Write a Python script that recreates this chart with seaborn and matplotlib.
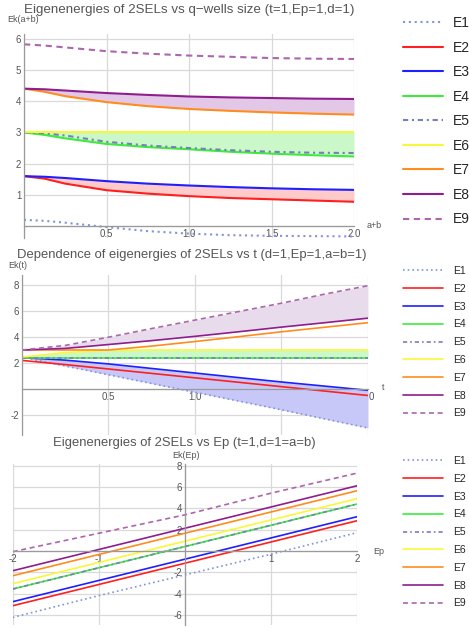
import numpy as np
import pandas as pd
import seaborn as sns
import matplotlib.pyplot as plt
from matplotlib.lines import Line2D
from matplotlib.ticker import MultipleLocator, FuncFormatter


# Panel 1: eigenenergies vs quantum-well size a+b
size_x = [0, 0.125, 0.25, 0.5, 0.75, 1.0, 1.25, 1.5, 1.75, 2.0]
size_e1 = [0.2, 0.17, 0.11, -0.03, -0.16, -0.24, -0.29, -0.31, -0.32, -0.33]
size_e2 = [1.6, 1.52, 1.36, 1.15, 1.04, 0.96, 0.9, 0.86, 0.82, 0.78]
size_e3 = [1.6, 1.58, 1.54, 1.44, 1.36, 1.3, 1.25, 1.21, 1.18, 1.16]
size_e4 = [3.0, 2.92, 2.81, 2.63, 2.53, 2.46, 2.38, 2.32, 2.27, 2.23]
size_e5 = [3.0, 2.97, 2.9, 2.7, 2.58, 2.5, 2.43, 2.38, 2.35, 2.34]
size_e6 = [3.0, 3.0, 3.0, 3.0, 3.0, 3.0, 3.0, 3.0, 3.0, 3.0]
size_e7 = [4.4, 4.3, 4.16, 3.97, 3.84, 3.75, 3.69, 3.64, 3.6, 3.57]
size_e8 = [4.4, 4.38, 4.34, 4.26, 4.2, 4.15, 4.12, 4.1, 4.08, 4.07]
size_e9 = [5.82, 5.78, 5.72, 5.6, 5.52, 5.46, 5.42, 5.38, 5.36, 5.35]

# Panel 2: eigenenergies vs t
t_x = [0, 0.25, 0.5, 0.75, 1.0, 1.25, 1.5, 1.75, 2.0]
t_e1 = [2.45, 1.77, 1.1, 0.42, -0.25, -0.92, -1.6, -2.3, -3.0]
t_e2 = [2.2, 1.88, 1.54, 1.2, 0.86, 0.52, 0.18, -0.16, -0.5]
t_e3 = [2.42, 2.22, 1.93, 1.58, 1.23, 0.88, 0.54, 0.22, -0.1]
t_e4 = [2.4, 2.4, 2.4, 2.4, 2.4, 2.4, 2.4, 2.4, 2.4]
t_e5 = [2.4, 2.4, 2.4, 2.4, 2.4, 2.4, 2.4, 2.4, 2.4]
t_e6 = [2.45, 2.8, 2.97, 3.0, 3.0, 3.0, 3.0, 3.0, 3.0]
t_e7 = [3.0, 3.0, 3.0, 3.3, 3.65, 4.02, 4.4, 4.75, 5.1]
t_e8 = [3.0, 3.12, 3.42, 3.72, 4.05, 4.4, 4.76, 5.1, 5.45]
t_e9 = [3.0, 3.35, 3.98, 4.65, 5.3, 5.95, 6.6, 7.3, 7.95]

# Panel 3: eigenenergies vs Ep
ep_x = [-2, -1, 0, 1, 2]
ep_e1 = [-6.25, -4.2, -2.25, -0.3, 1.73]
ep_e2 = [-5.15, -3.15, -1.15, 0.85, 2.85]
ep_e3 = [-4.77, -2.77, -0.77, 1.23, 3.23]
ep_e4 = [-3.58, -1.58, 0.42, 2.42, 4.42]
ep_e5 = [-3.58, -1.58, 0.42, 2.42, 4.42]
ep_e6 = [-3.08, -1.08, 0.92, 2.92, 4.92]
ep_e7 = [-2.33, -0.33, 1.67, 3.67, 5.67]
ep_e8 = [-1.86, 0.14, 2.14, 4.14, 6.14]
ep_e9 = [-0.07, 1.67, 3.4, 5.44, 7.33]

labels = ['E1', 'E2', 'E3', 'E4', 'E5', 'E6', 'E7', 'E8', 'E9']
colors = ['#8494d6', '#ff1f1f', '#1f1fff', '#3cec3c', '#7c7cba',
          '#f8f83a', '#ff8c1f', '#8e1e8e', '#ac66ac']
styles = [(0, (1, 1.8)), '-', '-', '-', (0, (2.5, 1.8, 1, 1.8)),
          '-', '-', '-', (0, (3, 2.2))]

W, H = 469, 628
TXT = '#555555'


def fx(px):
    return px / W


def fy(py):
    return 1 - py / H


def draw_lines(ax, x, series, lw):
    for y, c, ls in zip(series, colors, styles):
        df = pd.DataFrame({'x': x, 'y': y})
        sns.lineplot(data=df, x='x', y='y', ax=ax, color=c, linestyle=ls,
                     linewidth=lw, legend=False)


def style_axes(ax, xlim, ylim, xmaj, xmin, ymaj, ymin, xfmt, yfmt):
    ax.set_xlim(*xlim)
    ax.set_ylim(*ylim)
    ax.set_xlabel('')
    ax.set_ylabel('')
    for s in ['top', 'right']:
        ax.spines[s].set_visible(False)
    for s in ['left', 'bottom']:
        ax.spines[s].set_position(('data', 0))
        ax.spines[s].set_color('#9a9a9a')
        ax.spines[s].set_linewidth(0.9)
    ax.xaxis.set_major_locator(MultipleLocator(xmaj))
    ax.xaxis.set_minor_locator(MultipleLocator(xmin))
    ax.yaxis.set_major_locator(MultipleLocator(ymaj))
    ax.yaxis.set_minor_locator(MultipleLocator(ymin))
    ax.xaxis.set_major_formatter(FuncFormatter(xfmt))
    ax.yaxis.set_major_formatter(FuncFormatter(yfmt))
    ax.tick_params(which='major', direction='in', length=4, width=0.8,
                   color='#9a9a9a', labelcolor=TXT, labelsize=7, pad=2)
    ax.tick_params(which='minor', direction='in', length=2, width=0.6,
                   color='#9a9a9a')
    ax.grid(True, which='major', color='#d9d9d9', linewidth=0.9)
    ax.set_axisbelow(True)
    ax.patch.set_alpha(0)


def fmt_dec(v, pos):
    return '' if abs(v) < 1e-9 else f'{v:.1f}'


def fmt_int(v, pos):
    return '' if abs(v) < 1e-9 else f'{v:.0f}'


def add_legend(fig, top_px, fontsize, spacing, lw):
    handles = [Line2D([], [], color=c, linestyle=ls, linewidth=lw)
               for c, ls in zip(colors, styles)]
    hl = 40 / (fontsize * 100 / 72)
    pad = 10 / (fontsize * 100 / 72)
    fig.legend(handles, labels, loc='upper left',
               bbox_to_anchor=(fx(403), fy(top_px)), frameon=False,
               fontsize=fontsize, handlelength=hl, handletextpad=pad,
               labelspacing=spacing, borderpad=0, borderaxespad=0)


def main():
    sns.set_style('white')
    plt.rcParams['font.family'] = ['Liberation Sans', 'DejaVu Sans']

    fig = plt.figure(figsize=(W / 100, H / 100), dpi=100)

    # Panel 1
    ax1 = fig.add_axes([fx(24), fy(238), fx(354) - fx(24), fy(34) - fy(238)])
    ax1.fill_between(size_x, size_e2, size_e3, color='#ffcaca', lw=0)
    ax1.fill_between(size_x, size_e4, size_e6, color='#caf8c8', lw=0)
    ax1.fill_between(size_x, size_e7, size_e8, color='#e2c8e6', lw=0)
    draw_lines(ax1, size_x, [size_e1, size_e2, size_e3, size_e4, size_e5,
                             size_e6, size_e7, size_e8, size_e9], 1.5)
    style_axes(ax1, (0, 2.0), (-0.38, 6.15), 0.5, 0.1, 1, 0.2, fmt_dec, fmt_int)

    # Panel 2
    ax2 = fig.add_axes([fx(21.7), fy(435), fx(368) - fx(21.7), fy(275) - fy(435)])
    ax2.fill_between(t_x, t_e1, t_e3, color='#c8c8f8', lw=0)
    ax2.fill_between(t_x, t_e4, t_e6, color='#caf8c8', lw=0)
    ax2.fill_between(t_x, t_e8, t_e9, color='#e8dcec', lw=0)
    draw_lines(ax2, t_x, [t_e1, t_e2, t_e3, t_e4, t_e5,
                          t_e6, t_e7, t_e8, t_e9], 1.2)
    style_axes(ax2, (0, 2.0), (-3.54, 8.77), 0.5, 0.1, 2, 0.5, fmt_dec, fmt_int)

    # Panel 3
    ax3 = fig.add_axes([fx(12.7), fy(625.4), fx(357.3) - fx(12.7), fy(463.8) - fy(625.4)])
    draw_lines(ax3, ep_x, [ep_e1, ep_e2, ep_e3, ep_e4, ep_e5,
                           ep_e6, ep_e7, ep_e8, ep_e9], 1.2)
    style_axes(ax3, (-2, 2), (-7.0, 8.2), 1, 0.2, 2, 0.5, fmt_int, fmt_int)

    # Titles and axis labels
    fig.text(fx(189), fy(10), 'Eigenenergies of 2SELs vs q\u2212wells size (t=1,Ep=1,d=1)',
             ha='center', va='center', fontsize=9.6, color=TXT)
    fig.text(fx(192), fy(255), 'Dependence of eigenergies of 2SELs vs t (d=1,Ep=1,a=b=1)',
             ha='center', va='center', fontsize=9.4, color=TXT)
    fig.text(fx(184.5), fy(443), 'Eigenenergies of 2SELs vs Ep (t=1,d=1=a=b)',
             ha='center', va='center', fontsize=9.4, color=TXT)

    fig.text(fx(7), fy(20), 'Ek(a+b)', ha='left', va='center', fontsize=6.5, color=TXT)
    fig.text(fx(367), fy(226), 'a+b', ha='left', va='center', fontsize=6.5, color=TXT)
    fig.text(fx(8), fy(266), 'Ek(t)', ha='left', va='center', fontsize=6.5, color=TXT)
    fig.text(fx(382), fy(388), 't', ha='left', va='center', fontsize=6.5, color=TXT)
    fig.text(fx(186), fy(456), 'Ek(Ep)', ha='center', va='center', fontsize=6.5, color=TXT)
    fig.text(fx(373), fy(551), 'Ep', ha='left', va='center', fontsize=6.5, color=TXT)

    # Legends
    add_legend(fig, 16, 10, 0.76, 1.5)
    add_legend(fig, 266, 7.5, 0.75, 1.2)
    add_legend(fig, 456, 7.5, 0.75, 1.2)

    fig.savefig('out.png', dpi=100)


if __name__ == "__main__":
    main()
